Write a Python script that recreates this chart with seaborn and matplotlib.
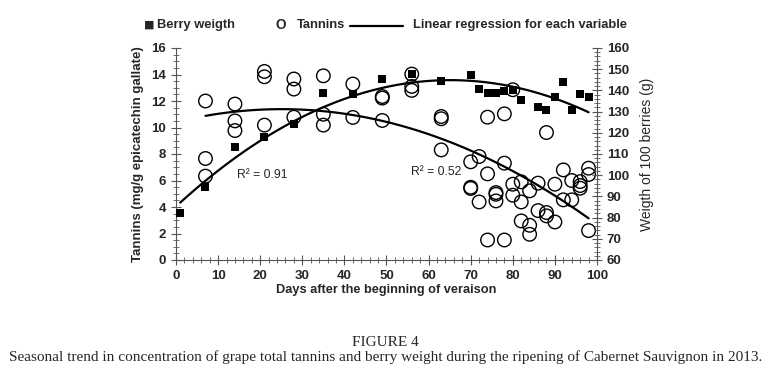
import numpy as np
import pandas as pd
import matplotlib.pyplot as plt
import matplotlib.lines as mlines
from matplotlib.ticker import MultipleLocator
import seaborn as sns

# berry weight (g / 100 berries), right axis
berry_days = [1, 7, 14, 21, 28, 35, 42, 49, 56, 63, 70, 72, 74, 76, 78, 80,
              82, 86, 88, 90, 92, 94, 96, 98]
berry_weight = [82.1, 94.2, 113.5, 118.1, 124.1, 139.0, 138.4, 145.5, 147.7, 144.2,
                147.1, 140.6, 138.6, 138.6, 139.8, 140.3, 135.4, 132.3, 130.7,
                136.7, 144.1, 130.7, 138.3, 136.7]

# tannins (mg/g epicatechin gallate), left axis
tannin_days = [7, 7, 7, 14, 14, 14, 21, 21, 21, 28, 28, 28,
               35, 35, 35, 42, 42, 49, 49, 49, 56, 56, 56, 63, 63, 63,
               70, 70, 70, 72, 72, 74, 74, 74, 76, 76, 76, 78, 78, 78,
               80, 80, 80, 82, 82, 82, 84, 84, 84, 86, 86, 88, 88, 88,
               90, 90, 92, 92, 94, 94, 96, 96, 96, 98, 98, 98]
tannin_values = [12.0, 7.66, 6.33, 11.77, 10.5, 9.77, 14.23, 13.83, 10.18, 13.66, 12.9, 10.78,
                 13.9, 11.0, 10.18, 13.28, 10.76, 12.34, 12.22, 10.53, 14.03, 13.1, 12.8,
                 10.83, 10.66, 8.31,
                 7.41, 5.49, 5.4, 7.81, 4.38, 10.78, 6.5, 1.51, 5.09, 4.96, 4.46,
                 11.03, 7.31, 1.51, 12.85, 5.72, 4.89, 5.9, 4.38, 2.95, 5.22, 2.62, 1.94,
                 5.8, 3.73, 9.62, 3.58, 3.33, 5.72, 2.87, 6.8, 4.54, 6.0, 4.54,
                 5.92, 5.62, 5.42, 6.93, 6.45, 2.22]

berry = pd.DataFrame({'day': berry_days, 'weight': berry_weight})
tannin = pd.DataFrame({'day': tannin_days, 'tannin': tannin_values})

sns.set_style("ticks")
plt.rcParams['font.family'] = ['Liberation Sans', 'DejaVu Sans']

fig = plt.figure(figsize=(7.71, 3.69), dpi=100)
ax1 = fig.add_axes([176/771, 1-260/369, 421/771, 212/369])
ax2 = ax1.twinx()

# tannins - open circles
sns.scatterplot(data=tannin, x='day', y='tannin', ax=ax1, marker='o', s=95,
                facecolor='none', edgecolor='black', linewidth=1, zorder=3)
sns.regplot(data=tannin, x='day', y='tannin', ax=ax1, order=2, ci=None,
            scatter=False, line_kws=dict(color='black', lw=1.6))

# berry weight - filled squares
sns.scatterplot(data=berry, x='day', y='weight', ax=ax2, marker='s', s=30,
                color='black', edgecolor='black', linewidth=0, zorder=3)
sns.regplot(data=berry, x='day', y='weight', ax=ax2, order=2, ci=None,
            scatter=False, line_kws=dict(color='black', lw=1.6))

ax1.set_xlim(0, 100)
ax1.set_ylim(0, 16)
ax2.set_ylim(60, 160)

ax1.xaxis.set_major_locator(MultipleLocator(10))
ax1.xaxis.set_minor_locator(MultipleLocator(2))
ax1.yaxis.set_major_locator(MultipleLocator(2))
ax1.yaxis.set_minor_locator(MultipleLocator(0.5))
ax2.yaxis.set_major_locator(MultipleLocator(10))
ax2.yaxis.set_minor_locator(MultipleLocator(2))

for a in (ax1, ax2):
    a.spines['top'].set_visible(False)
    for s in a.spines.values():
        s.set_color('#555555')
        s.set_linewidth(0.8)
    a.tick_params(which='major', direction='inout', length=7, width=0.8,
                  color='#555555', labelsize=9.5)
    a.tick_params(which='minor', direction='inout', length=4, width=0.6,
                  color='#555555')
ax1.spines['right'].set_visible(False)
ax2.spines['left'].set_visible(False)
ax2.spines['bottom'].set_visible(False)

for lab in ax1.get_xticklabels() + ax1.get_yticklabels() + ax2.get_yticklabels():
    lab.set_fontweight('bold')

ax1.set_xlabel('Days after the beginning of veraison', fontsize=9.2, fontweight='bold', labelpad=2)
ax1.set_ylabel('Tannins (mg/g epicatechin gallate)', fontsize=9.5, fontweight='bold', labelpad=5)
ax2.set_ylabel('Weigth of 100 berries (g)', fontsize=10, labelpad=8)

ax1.text(20.5, 6.4, 'R² = 0.91', fontsize=8.7, ha='center', va='center')
ax1.text(61.8, 6.67, 'R² = 0.52', fontsize=8.7, ha='center', va='center')

# legend row
fig.text(144/771, 1-25/369, '■', fontsize=8, va='center', family='DejaVu Sans')
fig.text(157/771, 1-25/369, 'Berry weigth', fontsize=9.3, fontweight='bold', va='center')
fig.text(276/771, 1-25/369, 'O', fontsize=9.8, fontweight='bold', va='center')
fig.text(297/771, 1-25/369, 'Tannins', fontsize=9.3, fontweight='bold', va='center')
fig.add_artist(mlines.Line2D([350/771, 403/771], [1-26/369, 1-26/369], color='black', lw=1.6))
fig.text(413/771, 1-25/369, 'Linear regression for each variable', fontsize=9.3,
         fontweight='bold', va='center')

fig.text(0.5, 1-342/369, 'FIGURE 4', fontsize=11, ha='center', va='center',
         family='Liberation Serif')
fig.text(0.5, 1-357/369, 'Seasonal trend in concentration of grape total tannins and berry weight '
         'during the ripening of Cabernet Sauvignon in 2013.', fontsize=11, ha='center',
         va='center', family='Liberation Serif')

fig.savefig('out.png', dpi=100)
